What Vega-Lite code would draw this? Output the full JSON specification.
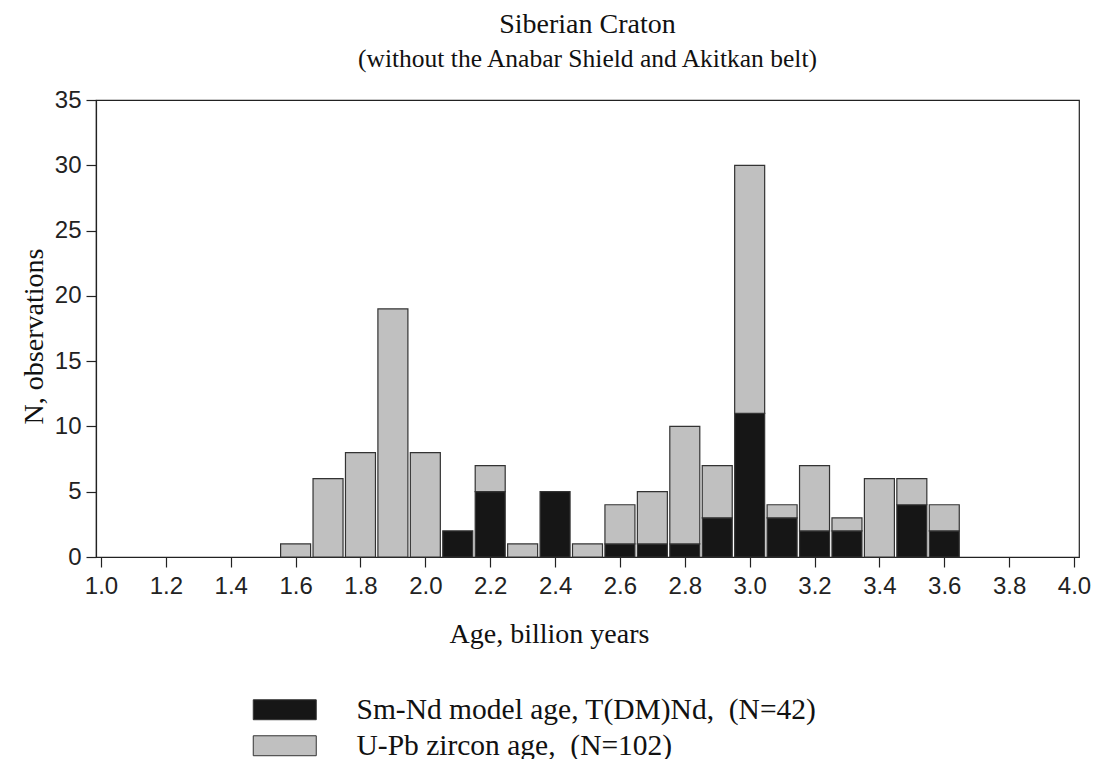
{
  "$schema": "https://vega.github.io/schema/vega-lite/v6.json",
  "autosize": {"type": "none"},
  "padding": {"left": 96, "top": 100, "right": 20, "bottom": 202},
  "width": 983,
  "height": 457,
  "background": "white",
  "title": {
    "text": "Siberian Craton",
    "subtitle": "(without the Anabar Shield and Akitkan belt)",
    "font": "Liberation Serif",
    "fontSize": 28,
    "fontWeight": "normal",
    "color": "#111",
    "subtitleFont": "Liberation Serif",
    "subtitleFontSize": 25.5,
    "subtitleColor": "#111",
    "subtitlePadding": 8,
    "anchor": "middle",
    "offset": 16
  },
  "data": {
    "values": [
      {"age": 1.6, "type": "U-Pb zircon age,\u00a0 (N=102)", "count": 1},
      {"age": 1.7, "type": "U-Pb zircon age,\u00a0 (N=102)", "count": 6},
      {"age": 1.8, "type": "U-Pb zircon age,\u00a0 (N=102)", "count": 8},
      {"age": 1.9, "type": "U-Pb zircon age,\u00a0 (N=102)", "count": 19},
      {"age": 2.0, "type": "U-Pb zircon age,\u00a0 (N=102)", "count": 8},
      {"age": 2.1, "type": "Sm-Nd model age, T(DM)Nd,\u00a0 (N=42)", "count": 2},
      {"age": 2.2, "type": "Sm-Nd model age, T(DM)Nd,\u00a0 (N=42)", "count": 5},
      {"age": 2.2, "type": "U-Pb zircon age,\u00a0 (N=102)", "count": 2},
      {"age": 2.3, "type": "U-Pb zircon age,\u00a0 (N=102)", "count": 1},
      {"age": 2.4, "type": "Sm-Nd model age, T(DM)Nd,\u00a0 (N=42)", "count": 5},
      {"age": 2.5, "type": "U-Pb zircon age,\u00a0 (N=102)", "count": 1},
      {"age": 2.6, "type": "Sm-Nd model age, T(DM)Nd,\u00a0 (N=42)", "count": 1},
      {"age": 2.6, "type": "U-Pb zircon age,\u00a0 (N=102)", "count": 3},
      {"age": 2.7, "type": "Sm-Nd model age, T(DM)Nd,\u00a0 (N=42)", "count": 1},
      {"age": 2.7, "type": "U-Pb zircon age,\u00a0 (N=102)", "count": 4},
      {"age": 2.8, "type": "Sm-Nd model age, T(DM)Nd,\u00a0 (N=42)", "count": 1},
      {"age": 2.8, "type": "U-Pb zircon age,\u00a0 (N=102)", "count": 9},
      {"age": 2.9, "type": "Sm-Nd model age, T(DM)Nd,\u00a0 (N=42)", "count": 3},
      {"age": 2.9, "type": "U-Pb zircon age,\u00a0 (N=102)", "count": 4},
      {"age": 3.0, "type": "Sm-Nd model age, T(DM)Nd,\u00a0 (N=42)", "count": 11},
      {"age": 3.0, "type": "U-Pb zircon age,\u00a0 (N=102)", "count": 19},
      {"age": 3.1, "type": "Sm-Nd model age, T(DM)Nd,\u00a0 (N=42)", "count": 3},
      {"age": 3.1, "type": "U-Pb zircon age,\u00a0 (N=102)", "count": 1},
      {"age": 3.2, "type": "Sm-Nd model age, T(DM)Nd,\u00a0 (N=42)", "count": 2},
      {"age": 3.2, "type": "U-Pb zircon age,\u00a0 (N=102)", "count": 5},
      {"age": 3.3, "type": "Sm-Nd model age, T(DM)Nd,\u00a0 (N=42)", "count": 2},
      {"age": 3.3, "type": "U-Pb zircon age,\u00a0 (N=102)", "count": 1},
      {"age": 3.4, "type": "U-Pb zircon age,\u00a0 (N=102)", "count": 6},
      {"age": 3.5, "type": "Sm-Nd model age, T(DM)Nd,\u00a0 (N=42)", "count": 4},
      {"age": 3.5, "type": "U-Pb zircon age,\u00a0 (N=102)", "count": 2},
      {"age": 3.6, "type": "Sm-Nd model age, T(DM)Nd,\u00a0 (N=42)", "count": 2},
      {"age": 3.6, "type": "U-Pb zircon age,\u00a0 (N=102)", "count": 2}
    ]
  },
  "mark": {"type": "bar", "size": 30, "stroke": "#333", "strokeWidth": 1.2},
  "encoding": {
    "x": {
      "field": "age",
      "type": "quantitative",
      "scale": {"domain": [1.0, 4.0], "nice": false, "zero": false},
      "axis": {
        "values": [1.0, 1.2, 1.4, 1.6, 1.8, 2.0, 2.2, 2.4, 2.6, 2.8, 3.0, 3.2, 3.4, 3.6, 3.8, 4.0],
        "format": ".1f",
        "title": "Age, billion years",
        "titleX": 453,
        "titleY": 85,
        "titleBaseline": "alphabetic",
        "labelPadding": 7,
        "labelFlush": false
      }
    },
    "y": {
      "field": "count",
      "type": "quantitative",
      "stack": "zero",
      "scale": {"domain": [0, 35], "nice": false},
      "axis": {
        "values": [0, 5, 10, 15, 20, 25, 30, 35],
        "title": "N, observations",
        "titleX": -54,
        "titleY": 236,
        "titleAngle": -90,
        "titleBaseline": "alphabetic",
        "titleAlign": "center",
        "labelPadding": 5
      }
    },
    "color": {
      "field": "type",
      "type": "nominal",
      "scale": {
        "domain": ["Sm-Nd model age, T(DM)Nd,\u00a0 (N=42)", "U-Pb zircon age,\u00a0 (N=102)"],
        "range": ["#161616", "#c0c0c0"]
      },
      "legend": {
        "title": null,
        "orient": "none",
        "legendX": 174,
        "legendY": 595,
        "direction": "vertical",
        "symbolType": "M-3,-0.95H3V0.95H-3Z",
        "symbolSize": 441,
        "symbolStrokeColor": "#333",
        "symbolStrokeWidth": 1,
        "symbolOpacity": 1,
        "labelFont": "Liberation Serif",
        "labelFontSize": 29.5,
        "labelColor": "#111",
        "labelOffset": 57,
        "rowPadding": 5,
        "padding": 0,
        "labelLimit": 700
      }
    },
    "order": {"field": "type", "sort": "ascending"}
  },
  "config": {
    "view": {"stroke": "#222", "strokeWidth": 1.2},
    "axis": {
      "grid": false,
      "domainColor": "#222",
      "domainWidth": 1.2,
      "tickColor": "#222",
      "tickWidth": 1.2,
      "tickSize": 10,
      "labelFont": "Liberation Sans",
      "labelFontSize": 24,
      "labelColor": "#222",
      "titleFont": "Liberation Serif",
      "titleFontSize": 28,
      "titleFontWeight": "normal",
      "titleColor": "#111"
    }
  }
}
